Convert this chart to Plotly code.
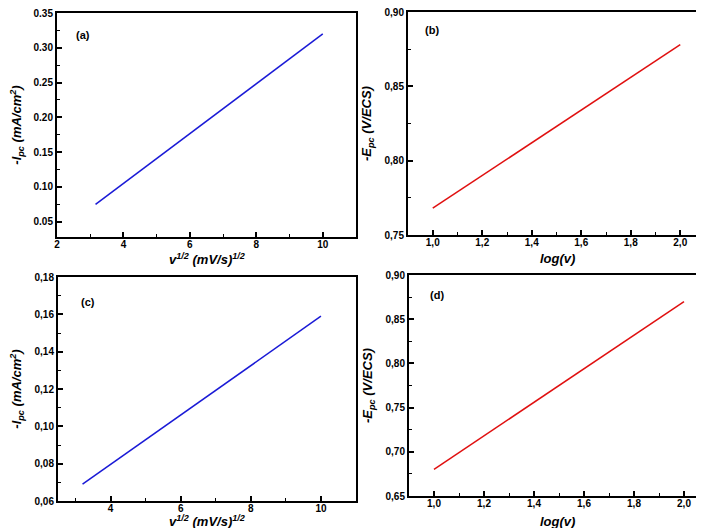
import plotly.graph_objects as go

# ---- data (fit lines) ----
a_x = [3.16, 10.0]
a_y = [0.075, 0.320]
b_x = [1.0, 2.0]
b_y = [0.768, 0.878]
c_x = [3.2, 10.0]
c_y = [0.069, 0.159]
d_x = [1.0, 2.0]
d_y = [0.680, 0.870]

# ---- tick labels ----
a_xticks = [2, 4, 6, 8, 10]
a_xlabels = ["2", "4", "6", "8", "10"]
a_xminor = [3, 5, 7, 9, 11]
a_yticks = [0.05, 0.10, 0.15, 0.20, 0.25, 0.30, 0.35]
a_ylabels = ["0.05", "0.10", "0.15", "0.20", "0.25", "0.30", "0.35"]
a_yminor = [0.075, 0.125, 0.175, 0.225, 0.275, 0.325]
b_xticks = [1.0, 1.2, 1.4, 1.6, 1.8, 2.0]
b_xlabels = ["1,0", "1,2", "1,4", "1,6", "1,8", "2,0"]
b_xminor = [1.1, 1.3, 1.5, 1.7, 1.9]
b_yticks = [0.75, 0.80, 0.85, 0.90]
b_ylabels = ["0,75", "0,80", "0,85", "0,90"]
b_yminor = [0.775, 0.825, 0.875]
c_xticks = [4, 6, 8, 10]
c_xlabels = ["4", "6", "8", "10"]
c_xminor = [3, 5, 7, 9]
c_yticks = [0.06, 0.08, 0.10, 0.12, 0.14, 0.16, 0.18]
c_ylabels = ["0,06", "0,08", "0,10", "0,12", "0,14", "0,16", "0,18"]
c_yminor = [0.07, 0.09, 0.11, 0.13, 0.15, 0.17]
d_xticks = [1.0, 1.2, 1.4, 1.6, 1.8, 2.0]
d_xlabels = ["1,0", "1,2", "1,4", "1,6", "1,8", "2,0"]
d_xminor = [1.1, 1.3, 1.5, 1.7, 1.9]
d_yticks = [0.65, 0.70, 0.75, 0.80, 0.85, 0.90]
d_ylabels = ["0,65", "0,70", "0,75", "0,80", "0,85", "0,90"]
d_yminor = [0.675, 0.725, 0.775, 0.825, 0.875]

panel_labels = ["(a)", "(b)", "(c)", "(d)"]
xtitle_sqrt = "v<sup>1/2</sup> (mV/s)<sup>1/2</sup>"
xtitle_log = "log(v)"
ytitle_i = "-I<sub>pc</sub> (mA/cm<sup>2</sup>)"
ytitle_e = "-E<sub>pc</sub> (V/ECS)"

W, H = 704, 528
BLUE = "#1a1ad6"
RED = "#e01010"
FONT = "Liberation Sans, Arial, sans-serif"

fig = go.Figure()
fig.add_trace(go.Scatter(x=a_x, y=a_y, mode="lines", line=dict(color=BLUE, width=1.5), xaxis="x", yaxis="y"))
fig.add_trace(go.Scatter(x=b_x, y=b_y, mode="lines", line=dict(color=RED, width=1.5), xaxis="x2", yaxis="y2"))
fig.add_trace(go.Scatter(x=c_x, y=c_y, mode="lines", line=dict(color=BLUE, width=1.5), xaxis="x3", yaxis="y3"))
fig.add_trace(go.Scatter(x=d_x, y=d_y, mode="lines", line=dict(color=RED, width=1.5), xaxis="x4", yaxis="y4"))


def px_x(a, b):
    return [a / W, b / W]


def px_y(top, bottom):
    return [1 - bottom / H, 1 - top / H]


tickfont = dict(family=FONT, size=10, color="black", weight="bold")
titlefont = dict(family=FONT, size=13, color="black", weight="bold", style="italic")


def ax(dom, rng, tv, tt, minor_vals, anchor, title, standoff, lab_off):
    return dict(domain=dom, range=rng, tickmode="array", tickvals=tv, ticktext=tt,
                ticks="inside", ticklen=5, tickwidth=1.5, tickcolor="black",
                minor=dict(tickmode="array", tickvals=minor_vals, ticks="inside",
                           ticklen=3, tickwidth=1.2, tickcolor="black", showgrid=False),
                showline=True, linewidth=2, linecolor="black", mirror=True,
                showgrid=False, zeroline=False, anchor=anchor, tickfont=tickfont,
                automargin=False, ticklabeloverflow="allow", ticklabelstandoff=lab_off,
                title=dict(text=title, font=titlefont, standoff=standoff))


XOFF = -3
fig.update_layout(
    width=W, height=H, margin=dict(l=0, r=0, t=0, b=0, autoexpand=False),
    paper_bgcolor="white", plot_bgcolor="white", showlegend=False,
    xaxis=ax(px_x(49, 348), [2, 11], a_xticks, a_xlabels, a_xminor, "y", "", 0, XOFF),
    yaxis=ax(px_y(5, 229), [0.028, 0.35], a_yticks, a_ylabels, a_yminor, "x", ytitle_i, 12, 0),
    xaxis2=ax(px_x(400, 697), [0.9, 2.1], b_xticks, b_xlabels, b_xminor, "y2", "", 0, XOFF),
    yaxis2=ax(px_y(4, 227), [0.75, 0.90], b_yticks, b_ylabels, b_yminor, "x2", ytitle_e, 10, 0),
    xaxis3=ax(px_x(50, 348), [2.5, 11], c_xticks, c_xlabels, c_xminor, "y3", "", 0, XOFF),
    yaxis3=ax(px_y(269, 493), [0.06, 0.18], c_yticks, c_ylabels, c_yminor, "x3", ytitle_i, 12, 0),
    xaxis4=ax(px_x(401, 701), [0.9, 2.1], d_xticks, d_xlabels, d_xminor, "y4", "", 0, XOFF),
    yaxis4=ax(px_y(267, 488), [0.65, 0.90], d_yticks, d_ylabels, d_yminor, "x4", ytitle_e, 10, 0),
)

# x-axis titles placed as paper annotations (pixel positions of their centres)
xtitle_pos = [(xtitle_sqrt, 199, 251), (xtitle_log, 549, 251), (xtitle_sqrt, 199, 513), (xtitle_log, 549, 513)]
for txt, cx, cy in xtitle_pos:
    fig.add_annotation(text=txt, xref="paper", yref="paper", x=cx / W, y=1 - cy / H,
                       showarrow=False, xanchor="center", yanchor="middle", font=titlefont)

label_pos = [("x", "y", 0.087, 0.90), ("x2", "y2", 0.08, 0.92), ("x3", "y3", 0.10, 0.89), ("x4", "y4", 0.093, 0.91)]
for lab, (xr, yr, xx, yy) in zip(panel_labels, label_pos):
    fig.add_annotation(text=lab, xref=xr + " domain", yref=yr + " domain", x=xx, y=yy,
                       showarrow=False, xanchor="center", yanchor="middle",
                       font=dict(family=FONT, size=11, color="black", weight="bold"))

fig.write_html("out.html")
